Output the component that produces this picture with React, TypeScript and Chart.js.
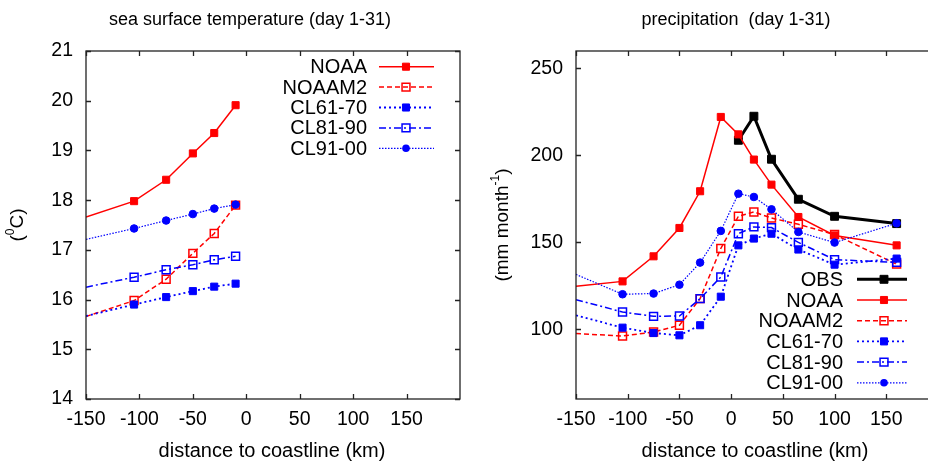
import React, { useEffect, useRef } from 'react';
import { Chart, registerables } from 'chart.js';

Chart.register(...registerables);

const FONT = '"Liberation Sans", Arial, Helvetica, sans-serif';

// ---------- data: sea surface temperature ----------
const sstDistance = [-150, -105, -75, -50, -30, -10];
const sstNOAA = [17.66, 17.98, 18.41, 18.94, 19.35, 19.91];
const sstNOAAM2 = [15.66, 15.98, 16.41, 16.93, 17.33, 17.9];
const sstCL6170 = [15.67, 15.9, 16.05, 16.17, 16.26, 16.32];
const sstCL8190 = [16.25, 16.45, 16.6, 16.7, 16.8, 16.87];
const sstCL9100 = [17.21, 17.43, 17.59, 17.72, 17.83, 17.91];

// ---------- data: precipitation ----------
const prDistance = [-150, -105, -75, -50, -30, -10, 7, 22, 39, 65, 100, 160];
const prOBS = [null, null, null, null, null, null, 208.7, 222.5, 197.8, 174.8, 165, 160.8];
const prNOAA = [124.8, 127.6, 142, 158.3, 179.4, 222.1, 212.1, 197.6, 183.2, 164.6, 154, 148.3];
const prNOAAM2 = [97.6, 96.2, 98.5, 102.4, 117.7, 146.5, 165, 167.5, 164, 160.4, 154.5, 137.5];
const prCL6170 = [108.1, 101, 97.9, 96.6, 102.4, 118.8, 148.3, 152.2, 155, 145.9, 137.2, 140.7];
const prCL8190 = [117.1, 110, 107.5, 107.7, 117.7, 130.1, 155, 158.9, 158.5, 150, 140.1, 138.5];
const prCL9100 = [131.6, 120.2, 120.6, 125.7, 138.4, 156.6, 178, 176.1, 169, 156, 149.9, 161];

// ---------- ticks ----------
const xTicks = [-150, -100, -50, 0, 50, 100, 150];
const sstTicks = [14, 15, 16, 17, 18, 19, 20, 21];
const prTicks = [100, 150, 200, 250];

type Style = {
  color: string;
  width: number;
  dash: number[];
  shape: 'rect' | 'circle';
  filled: boolean;
  radius: number;
};

const STYLES: Record<string, Style> = {
  OBS: { color: '#000000', width: 3, dash: [], shape: 'rect', filled: true, radius: 5.6 },
  NOAA: { color: '#ff0000', width: 1.5, dash: [], shape: 'rect', filled: true, radius: 5 },
  NOAAM2: { color: '#ff0000', width: 1.5, dash: [5, 3], shape: 'rect', filled: false, radius: 5.6 },
  'CL61-70': { color: '#0000ff', width: 1.8, dash: [2, 3], shape: 'rect', filled: true, radius: 5 },
  'CL81-90': { color: '#0000ff', width: 1.5, dash: [7, 3, 2, 3], shape: 'rect', filled: false, radius: 5.6 },
  'CL91-00': { color: '#0000ff', width: 1.2, dash: [1.5, 1.5], shape: 'circle', filled: true, radius: 3.8 },
};

type Series = { label: string; values: (number | null)[] };

type Part = { text: string; sup?: boolean };

type PanelCfg = {
  xs: number[];
  series: Series[];
  yMin: number;
  yMax: number;
  yTicks: number[];
  plotLeft: number;
  plotRight: number;
  canvasW: number;
  canvasH: number;
  plotTop: number;
  plotBottom: number;
  title: { text: string; cx: number; y: number };
  yTitle: { parts: Part[]; cx: number; cy: number };
  xTitle: { text: string; cx: number; y: number };
  legend: { textRight: number; x1: number; x2: number; mx: number; y0: number; dy: number };
};

function drawMarker(ctx: CanvasRenderingContext2D, st: Style, x: number, y: number) {
  ctx.save();
  ctx.setLineDash([]);
  ctx.strokeStyle = st.color;
  ctx.fillStyle = st.color;
  ctx.lineWidth = st.filled ? 1 : 1.5;
  if (st.shape === 'circle') {
    ctx.beginPath();
    ctx.arc(x, y, st.radius, 0, Math.PI * 2);
    ctx.fill();
  } else {
    const s = Math.SQRT1_2 * st.radius;
    ctx.beginPath();
    ctx.rect(x - s, y - s, 2 * s, 2 * s);
    if (st.filled) ctx.fill();
    ctx.stroke();
  }
  ctx.restore();
}

function drawParts(ctx: CanvasRenderingContext2D, parts: Part[], size: number) {
  const supSize = Math.round(size * 0.65);
  let total = 0;
  const widths = parts.map((p) => {
    ctx.font = `${p.sup ? supSize : size}px ${FONT}`;
    const w = ctx.measureText(p.text).width;
    total += w;
    return w;
  });
  let x = -total / 2;
  parts.forEach((p, i) => {
    ctx.font = `${p.sup ? supSize : size}px ${FONT}`;
    ctx.fillText(p.text, x, p.sup ? -size * 0.38 : 0);
    x += widths[i];
  });
}

function makeChart(canvas: HTMLCanvasElement, cfg: PanelCfg) {
  const n = cfg.series.length;
  const datasets = cfg.series.map((s, i) => {
    const st = STYLES[s.label];
    return {
      label: s.label,
      data: cfg.xs.map((x, j) => ({ x, y: s.values[j] })),
      borderColor: st.color,
      backgroundColor: st.filled ? st.color : 'rgba(0,0,0,0)',
      borderWidth: st.width,
      borderDash: st.dash,
      pointStyle: st.shape,
      pointRadius: cfg.xs.map((x) => (x <= cfg.xs[0] ? 0 : st.radius)),
      pointBorderColor: st.color,
      pointBackgroundColor: st.filled ? st.color : 'rgba(0,0,0,0)',
      pointBorderWidth: st.filled ? 1 : 1.5,
      tension: 0,
      spanGaps: false,
      order: n - i,
    };
  });

  const frame = {
    id: 'frame',
    afterDraw(chart: any) {
      const ctx: CanvasRenderingContext2D = chart.ctx;
      const a = chart.chartArea;
      const xs = chart.scales.x;
      const ys = chart.scales.y;
      ctx.save();
      // box
      ctx.strokeStyle = '#222';
      ctx.lineWidth = 1.3;
      ctx.setLineDash([]);
      ctx.strokeRect(a.left, a.top, a.right - a.left, a.bottom - a.top);
      // inward ticks
      const tl = 5;
      ctx.beginPath();
      xTicks.forEach((v) => {
        const px = Math.round(xs.getPixelForValue(v)) + 0.5;
        ctx.moveTo(px, a.bottom);
        ctx.lineTo(px, a.bottom - tl);
        ctx.moveTo(px, a.top);
        ctx.lineTo(px, a.top + tl);
      });
      cfg.yTicks.forEach((v) => {
        const py = Math.round(ys.getPixelForValue(v)) + 0.5;
        ctx.moveTo(a.left, py);
        ctx.lineTo(a.left + tl, py);
        ctx.moveTo(a.right, py);
        ctx.lineTo(a.right - tl, py);
      });
      ctx.stroke();

      ctx.fillStyle = '#000';
      // title
      ctx.font = `18px ${FONT}`;
      ctx.textAlign = 'center';
      ctx.textBaseline = 'alphabetic';
      ctx.fillText(cfg.title.text, cfg.title.cx, cfg.title.y);
      // x title
      ctx.font = `20px ${FONT}`;
      ctx.fillText(cfg.xTitle.text, cfg.xTitle.cx, cfg.xTitle.y);
      // y title
      ctx.save();
      ctx.translate(cfg.yTitle.cx, cfg.yTitle.cy);
      ctx.rotate(-Math.PI / 2);
      ctx.textAlign = 'left';
      ctx.textBaseline = 'middle';
      drawParts(ctx, cfg.yTitle.parts, 19);
      ctx.restore();

      // legend
      const L = cfg.legend;
      cfg.series.forEach((s, i) => {
        const st = STYLES[s.label];
        const y = L.y0 + i * L.dy;
        ctx.fillStyle = '#000';
        ctx.font = `20px ${FONT}`;
        ctx.textAlign = 'right';
        ctx.textBaseline = 'middle';
        ctx.fillText(s.label, L.textRight, y + 1);
        ctx.save();
        ctx.strokeStyle = st.color;
        ctx.lineWidth = st.width;
        ctx.setLineDash(st.dash);
        ctx.beginPath();
        ctx.moveTo(L.x1, y);
        ctx.lineTo(L.x2, y);
        ctx.stroke();
        ctx.restore();
        drawMarker(ctx, st, L.mx, y);
      });
      ctx.restore();
    },
  };

  return new Chart(canvas, {
    type: 'line',
    data: { datasets: datasets as any },
    plugins: [frame],
    options: {
      animation: false,
      responsive: false,
      devicePixelRatio: 1,
      events: [],
      layout: {
        padding: {
          left: 0,
          top: cfg.plotTop,
          right: cfg.canvasW - cfg.plotRight,
          bottom: 0,
        },
      },
      plugins: {
        legend: { display: false },
        title: { display: false },
        tooltip: { enabled: false },
      },
      scales: {
        x: {
          type: 'linear',
          min: -150,
          max: 200,
          grid: { display: false, drawTicks: false },
          border: { display: false },
          ticks: {
            padding: 9,
            color: '#000',
            font: { family: FONT, size: 19.5 },
            maxRotation: 0,
            autoSkip: false,
          },
          afterBuildTicks: (axis: any) => {
            axis.ticks = xTicks.map((value) => ({ value }));
          },
          afterFit: (axis: any) => {
            axis.height = cfg.canvasH - cfg.plotBottom;
          },
        },
        y: {
          type: 'linear',
          min: cfg.yMin,
          max: cfg.yMax,
          grid: { display: false, drawTicks: false },
          border: { display: false },
          ticks: {
            padding: 13,
            color: '#000',
            font: { family: FONT, size: 19.5 },
            autoSkip: false,
          },
          afterBuildTicks: (axis: any) => {
            axis.ticks = cfg.yTicks.map((value) => ({ value }));
          },
          afterFit: (axis: any) => {
            axis.width = cfg.plotLeft;
          },
        },
      },
    } as any,
  });
}

export default function App() {
  const leftRef = useRef<HTMLCanvasElement>(null);
  const rightRef = useRef<HTMLCanvasElement>(null);

  useEffect(() => {
    const H = 463;
    const c1 = makeChart(leftRef.current!, {
      xs: sstDistance,
      series: [
        { label: 'NOAA', values: sstNOAA },
        { label: 'NOAAM2', values: sstNOAAM2 },
        { label: 'CL61-70', values: sstCL6170 },
        { label: 'CL81-90', values: sstCL8190 },
        { label: 'CL91-00', values: sstCL9100 },
      ],
      yMin: 14,
      yMax: 21,
      yTicks: sstTicks,
      plotLeft: 86,
      plotRight: 460,
      canvasW: 470,
      canvasH: H,
      plotTop: 51,
      plotBottom: 399,
      title: { text: 'sea surface temperature (day 1-31)', cx: 250, y: 25 },
      yTitle: { parts: [{ text: '(' }, { text: '0', sup: true }, { text: 'C)' }], cx: 18, cy: 225 },
      xTitle: { text: 'distance to coastline (km)', cx: 272, y: 457 },
      legend: { textRight: 367, x1: 379, x2: 434, mx: 406, y0: 66.7, dy: 20.4 },
    });
    const c2 = makeChart(rightRef.current!, {
      xs: prDistance,
      series: [
        { label: 'OBS', values: prOBS },
        { label: 'NOAA', values: prNOAA },
        { label: 'NOAAM2', values: prNOAAM2 },
        { label: 'CL61-70', values: prCL6170 },
        { label: 'CL81-90', values: prCL8190 },
        { label: 'CL91-00', values: prCL9100 },
      ],
      yMin: 60,
      yMax: 260,
      yTicks: prTicks,
      plotLeft: 106,
      plotRight: 468,
      canvasW: 480,
      canvasH: H,
      plotTop: 51,
      plotBottom: 399,
      title: { text: 'precipitation  (day 1-31)', cx: 266, y: 25 },
      yTitle: {
        parts: [{ text: '(mm month' }, { text: '-1', sup: true }, { text: ')' }],
        cx: 33,
        cy: 225,
      },
      xTitle: { text: 'distance to coastline (km)', cx: 285, y: 457 },
      legend: { textRight: 373, x1: 387, x2: 437, mx: 414, y0: 279.3, dy: 20.7 },
    });
    return () => {
      c1.destroy();
      c2.destroy();
    };
  }, []);

  return (
    <div
      style={{
        position: 'fixed',
        left: 0,
        top: 0,
        width: 928,
        height: 463,
        overflow: 'hidden',
        background: '#fff',
      }}
    >
      <canvas
        ref={leftRef}
        width={470}
        height={463}
        style={{ position: 'absolute', left: 0, top: 0, width: 470, height: 463 }}
      />
      <canvas
        ref={rightRef}
        width={480}
        height={463}
        style={{ position: 'absolute', left: 470, top: 0, width: 480, height: 463 }}
      />
    </div>
  );
}
